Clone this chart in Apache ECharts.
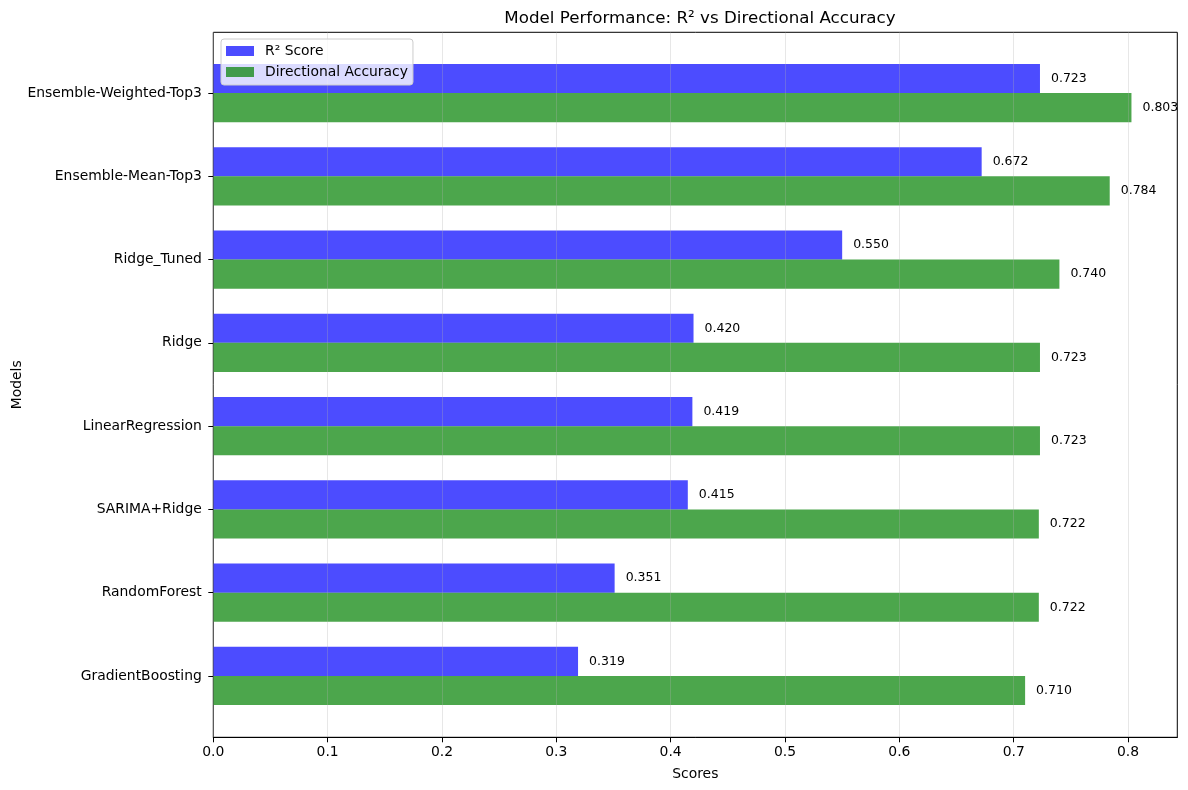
<!DOCTYPE html>
<html>
<head>
<meta charset="utf-8">
<script src="https://cdn.jsdelivr.net/npm/echarts@6/dist/echarts.min.js"></script>
<style>
  html, body { margin: 0; padding: 0; background: #fff; }
  #chart { width: 1188px; height: 790px; }
</style>
</head>
<body>
<div id="chart"></div>
<script>
// bottom -> top, like the picture
const models = ['GradientBoosting', 'RandomForest', 'SARIMA+Ridge', 'LinearRegression',
                'Ridge', 'Ridge_Tuned', 'Ensemble-Mean-Top3', 'Ensemble-Weighted-Top3'];
const r2Scores = [0.319, 0.351, 0.415, 0.419, 0.420, 0.550, 0.672, 0.723];
const dirAccuracy = [0.710, 0.722, 0.722, 0.723, 0.723, 0.740, 0.784, 0.803];
const xTicks = [0, 0.1, 0.2, 0.3, 0.4, 0.5, 0.6, 0.7, 0.8];

const font = 'DejaVu Sans';
const xMax = 0.8431;

const chart = echarts.init(document.getElementById('chart'));

const barLabel = {
    show: true,
    position: 'right',
    distance: 11,
    color: '#000',
    fontSize: 12.5,
    fontFamily: font,
    formatter: p => p.value.toFixed(3)
};

const option = {
    animation: false,
    backgroundColor: '#fff',
    textStyle: { fontFamily: font },
    title: {
        text: 'Model Performance: R² vs Directional Accuracy',
        left: 695,
        textAlign: 'center',
        top: 5,
        textStyle: { fontSize: 16.7, fontWeight: 'normal', color: '#000', fontFamily: font }
    },
    legend: {
        orient: 'vertical',
        left: 221,
        top: 39,
        icon: 'rect',
        itemWidth: 28,
        itemHeight: 10,
        itemGap: 7,
        padding: [5, 5, 6, 5],
        backgroundColor: 'rgba(255,255,255,0.8)',
        borderColor: '#cccccc',
        borderWidth: 1,
        borderRadius: 3,
        textStyle: { fontSize: 13.9, color: '#000', fontFamily: font, lineHeight: 14, padding: [0, 0, 0, 6] },
        data: ['R² Score', 'Directional Accuracy']
    },
    grid: [
        // frame of the axes
        { left: 213.3, right: 10.7, top: 32.3, bottom: 52.7, show: true, outerBoundsMode: 'none',
          borderColor: '#000', borderWidth: 1, backgroundColor: 'transparent' },
        // bars
        { left: 213.3, right: 10.7, top: 51.4, bottom: 72.4, outerBoundsMode: 'none' }
    ],
    xAxis: [
        {
            gridIndex: 0, type: 'value', min: 0, max: xMax, interval: 0.1, z: 3,
            name: 'Scores', nameLocation: 'middle', nameGap: 30,
            nameTextStyle: { fontSize: 13.9, color: '#000', fontFamily: font },
            axisLine: { show: true, lineStyle: { color: '#000', width: 1 } },
            axisTick: { show: true, length: 5, lineStyle: { color: '#000' }, customValues: xTicks },
            axisLabel: { color: '#000', fontSize: 13.9, margin: 8, fontFamily: font,
                         customValues: xTicks, formatter: v => v.toFixed(1) },
            splitLine: { show: true, lineStyle: { color: 'rgba(176,176,176,0.3)', width: 1 } }
        },
        { gridIndex: 1, type: 'value', min: 0, max: xMax, show: false }
    ],
    yAxis: [
        {
            gridIndex: 0, type: 'value', min: 0, max: 1,
            name: 'Models', nameLocation: 'middle', nameGap: 189, nameRotate: 90,
            nameTextStyle: { fontSize: 13.9, color: '#000', fontFamily: font },
            axisLine: { show: false }, axisTick: { show: false },
            axisLabel: { show: false }, splitLine: { show: false }
        },
        {
            gridIndex: 1, type: 'category', data: models,
            axisLine: { show: false },
            axisTick: { show: true, alignWithLabel: true, length: 5, lineStyle: { color: '#000' } },
            axisLabel: { color: '#000', fontSize: 13.9, margin: 11.5, fontFamily: font },
            splitLine: { show: false }
        }
    ],
    series: [
        {
            name: 'R² Score', type: 'bar', xAxisIndex: 1, yAxisIndex: 1,
            data: r2Scores, barWidth: 29.15, barGap: '0%',
            itemStyle: { color: 'rgba(0,0,255,0.7)' },
            label: barLabel
        },
        {
            name: 'Directional Accuracy', type: 'bar', xAxisIndex: 1, yAxisIndex: 1,
            data: dirAccuracy, barWidth: 29.15, barGap: '0%',
            itemStyle: { color: 'rgba(0,128,0,0.7)' },
            label: barLabel
        }
    ]
};

chart.setOption(option);
</script>
</body>
</html>
